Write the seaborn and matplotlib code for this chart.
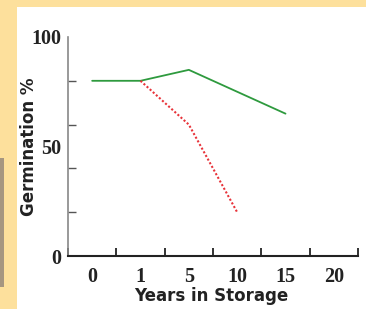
import matplotlib
matplotlib.use("Agg")
import matplotlib.pyplot as plt
import matplotlib.patches as mpatches
import seaborn as sns
import pandas as pd

# ---- data ----
year_labels = ["0", "1", "5", "10", "15", "20"]
green_years = ["0", "1", "5", "10", "15"]
green_vals = [80, 80, 85, 75, 65]
red_years = ["1", "5", "10"]
red_vals = [80, 60, 20]
y_tick_labels = ["0", "50", "100"]

sns.set_theme(style="white")
plt.rcParams["font.family"] = ["DejaVu Sans"]

W, H = 366, 309
fig = plt.figure(figsize=(W / 100, H / 100), dpi=100)
fig.patch.set_facecolor("#FDE09C")
# white panel
fig.patches.append(mpatches.Rectangle((17 / W, 0), 1, 1 - 7 / H, transform=fig.transFigure,
                                      facecolor="white", edgecolor="none", zorder=-2))
# brown side bar
fig.patches.append(mpatches.Rectangle((0, 1 - 287 / H), 4 / W, (287 - 158) / H, transform=fig.transFigure,
                                      facecolor="#A69680", edgecolor="none", zorder=-2))

ax = fig.add_axes([68 / W, 1 - 256 / H, (358 - 68) / W, (256 - 37) / H])
ax.set_facecolor("none")

g = pd.DataFrame({"pos": [year_labels.index(y) for y in green_years], "val": green_vals})
r = pd.DataFrame({"pos": [year_labels.index(y) for y in red_years], "val": red_vals})

sns.lineplot(data=g, x="pos", y="val", ax=ax, color="#2E9A3E", linewidth=1.3)
sns.lineplot(data=r, x="pos", y="val", ax=ax, color="#E8333A", linewidth=1.5,
             linestyle=(0, (1, 1.0)))

ax.set_xlim(-0.5, len(year_labels) - 0.5)
ax.set_ylim(0, 100)
ax.set_xlabel("")
ax.set_ylabel("")

ax.set_xticks(range(len(year_labels)))
ax.set_xticklabels(year_labels)
ax.set_xticks([i - 0.5 for i in range(len(year_labels) + 1)], minor=True)
ax.set_yticks([int(v) for v in y_tick_labels])
ax.set_yticklabels(y_tick_labels)
ax.set_yticks([20, 40, 60, 80, 100], minor=True)

ax.tick_params(which="both", bottom=True, left=True)
ax.tick_params(axis="x", which="major", length=0, pad=8)
ax.tick_params(axis="x", which="minor", length=5.5, width=1.3, direction="in", color="#222222")
ax.tick_params(axis="y", which="major", length=0, pad=5)
ax.tick_params(axis="y", which="minor", length=5.5, width=1.0, direction="in", color="#555555")

for lab in ax.get_xticklabels() + ax.get_yticklabels():
    lab.set_fontfamily("Liberation Serif")
    lab.set_fontweight("bold")
    lab.set_fontsize(14.5)
    lab.set_color("#222222")

for s in ["top", "right"]:
    ax.spines[s].set_visible(False)
ax.spines["left"].set_color("#888888")
ax.spines["left"].set_linewidth(1.2)
ax.spines["bottom"].set_color("#222222")
ax.spines["bottom"].set_linewidth(1.5)

fig.text(211 / W, 1 - 296 / H, "Years in Storage", ha="center", va="center",
         fontsize=12, fontweight="bold", color="#222222")
fig.text(29.5 / W, 1 - 147 / H, "Germination %", ha="center", va="center", rotation=90,
         fontsize=12, fontweight="bold", color="#222222")

fig.savefig("out.png", dpi=100)
